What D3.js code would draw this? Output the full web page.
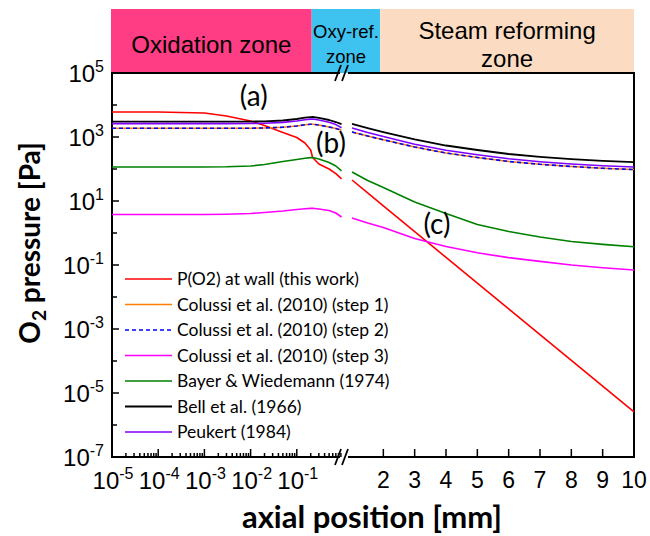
<!DOCTYPE html>
<html>
<head>
<meta charset="utf-8">
<script src="https://cdn.jsdelivr.net/npm/d3@7"></script>
<style>
  body { margin: 0; background: #fff; }
  svg { display: block; }
</style>
</head>
<body>
<svg id="chart" width="650" height="536"></svg>
<script>
// Axial positions (mm) on the logarithmic part of the broken axis
const xLogPart = [1e-5, 1e-4, 1e-3, 3e-3, 1e-2, 2e-2, 5e-2, 0.1, 0.15, 0.2, 0.22, 0.3, 0.5, 0.7, 0.93];
// Axial positions (mm) on the linear part of the broken axis
const xLinPart = [1, 1.5, 2, 3, 4, 5, 6, 7, 8, 9, 10];

// O2 partial pressure (Pa) for each series: logarithmic part, then linear part
const wallLog   = [6040, 6040, 5620, 4530, 3160, 2290, 1380, 964, 649, 392, 229, 143, 100, 72, 49];
const wallLin   = [45.3, 17.9, 7.08, 1.11, 0.173, 0.0271, 4.25e-3, 6.64e-4, 1.04e-4, 1.63e-5, 2.55e-6];
const step1Log  = [1870, 1870, 1870, 1870, 1880, 1920, 2020, 2210, 2410, 2490, 2490, 2370, 2050, 1840, 1650];
const step1Lin  = [1430, 1070, 818, 487, 316, 229, 172, 140, 120, 105, 96];
const step2Log  = [1870, 1870, 1870, 1870, 1880, 1920, 2020, 2210, 2410, 2490, 2490, 2370, 2050, 1840, 1650];
const step2Lin  = [1430, 1070, 818, 487, 316, 229, 172, 140, 120, 105, 96];
const step3Log  = [3.79, 3.79, 3.79, 3.87, 4.07, 4.37, 4.87, 5.42, 5.70, 5.87, 5.92, 5.62, 5.05, 4.22, 3.16];
const step3Lin  = [2.94, 2.05, 1.49, 0.67, 0.38, 0.24, 0.17, 0.13, 0.10, 0.082, 0.070];
const bayerLog  = [115, 115, 115, 117, 124, 138, 172, 198, 216, 227, 229, 205, 160, 124, 87];
const bayerLin  = [80.6, 43.7, 26.4, 9.31, 4.07, 1.84, 1.11, 0.75, 0.54, 0.44, 0.37];
const bellLog   = [3010, 3010, 3010, 3010, 3030, 3100, 3280, 3650, 4010, 4190, 4220, 3930, 3400, 2940, 2510];
const bellLin   = [2550, 1910, 1430, 836, 542, 392, 294, 240, 205, 180, 165];
const peukLog   = [2620, 2620, 2620, 2620, 2640, 2700, 2860, 3160, 3470, 3630, 3650, 3400, 2880, 2440, 1950];
const peukLin   = [1910, 1380, 1030, 596, 384, 278, 208, 169, 144, 127, 115];

const seriesNames = [
  "P(O2) at wall (this work)",
  "Colussi et al. (2010) (step 1)",
  "Colussi et al. (2010) (step 2)",
  "Colussi et al. (2010) (step 3)",
  "Bayer & Wiedemann (1974)",
  "Bell et al. (1966)",
  "Peukert (1984)"
];

// Reaction zones along the channel (mm)
const zoneLabels = [["Oxidation zone"], ["Oxy-ref.", "zone"], ["Steam reforming", "zone"]];
const zoneEdges = [1e-5, 0.21, 1.9, 10];

// Tick labels
const yTickExponents = [5, 3, 1, -1, -3, -5, -7];
const xLogTickExponents = [-5, -4, -3, -2, -1];
const xLinTickValues = [2, 3, 4, 5, 6, 7, 8, 9, 10];

// Curve annotations
const notes = [
  { text: "(a)", x: 0.0117, y: 9300 },
  { text: "(b)", x: 0.55, y: 316 },
  { text: "(c)", x: 3.71, y: 0.93 }
];

// ---------------------------------------------------------------
const series = [
  { name: seriesNames[0], log: wallLog,  lin: wallLin,  color: "#ff0000", width: 1.6 },
  { name: seriesNames[1], log: step1Log, lin: step1Lin, color: "#ff8000", width: 1.6 },
  { name: seriesNames[2], log: step2Log, lin: step2Lin, color: "#0000ff", width: 1.6, dash: "4,3" },
  { name: seriesNames[3], log: step3Log, lin: step3Lin, color: "#ff00ff", width: 1.6 },
  { name: seriesNames[4], log: bayerLog, lin: bayerLin, color: "#008000", width: 1.6 },
  { name: seriesNames[5], log: bellLog,  lin: bellLin,  color: "#000000", width: 1.8 },
  { name: seriesNames[6], log: peukLog,  lin: peukLin,  color: "#8000ff", width: 1.6 }
];

const svg = d3.select("#chart");
const plotTop = 73, plotBottom = 457, plotLeft = 112, plotRight = 634;
const breakLeft = 343, breakRight = 352;

const xL = d3.scaleLog().domain([1e-5, 1]).range([plotLeft, breakLeft]);
const xR = d3.scaleLinear().domain([1, 10]).range([breakRight, plotRight]);
const xPos = v => (v < 1 ? xL(v) : xR(v));
const y = d3.scaleLog().domain([1e-7, 1e5]).range([plotBottom, plotTop]);

const tickFont = "'Liberation Sans', Arial, sans-serif";
const textFont = "Lato, 'Open Sans', sans-serif";

// Zone bar above the plot
const zoneColors = ["#fe3d84", "#3ec3f0", "#fbdcc2"];
const zoneG = svg.append("g");
zoneLabels.forEach((lines, i) => {
  const x0 = i === 0 ? plotLeft - 1 : xPos(zoneEdges[i]);
  const x1 = xPos(zoneEdges[i + 1]);
  zoneG.append("rect")
    .attr("x", x0).attr("y", 9)
    .attr("width", x1 - x0).attr("height", plotTop - 9)
    .attr("fill", zoneColors[i]);
  const fs = i === 1 ? 18.5 : 24;
  const baselines = lines.length === 1 ? [53] : (i === 1 ? [38, 63] : [39, 67]);
  const t = zoneG.append("text")
    .attr("font-family", tickFont).attr("font-size", fs)
    .attr("text-anchor", "middle").attr("fill", "#000");
  lines.forEach((ln, k) => {
    t.append("tspan").attr("x", (x0 + x1) / 2).attr("y", baselines[k]).text(ln);
  });
});

// Plot frame with axis break
const frame = svg.append("g").attr("stroke", "#000").attr("stroke-width", 2).attr("fill", "none");
frame.append("line").attr("x1", plotLeft).attr("x2", plotLeft).attr("y1", plotTop - 1).attr("y2", plotBottom + 1);
frame.append("line").attr("x1", plotRight).attr("x2", plotRight).attr("y1", plotTop - 1).attr("y2", plotBottom + 1);
[plotTop, plotBottom].forEach(yy => {
  frame.append("line").attr("x1", plotLeft).attr("x2", breakLeft - 3).attr("y1", yy).attr("y2", yy);
  frame.append("line").attr("x1", breakRight - 4).attr("x2", plotRight).attr("y1", yy).attr("y2", yy);
  [breakLeft - 5, breakLeft + 2].forEach(bx => {
    frame.append("line")
      .attr("x1", bx - 3).attr("y1", yy + 8)
      .attr("x2", bx + 3).attr("y2", yy - 8)
      .attr("stroke-width", 1.8);
  });
});

// Y axis ticks (inward) and labels
const yTicks = d3.range(-7, 6);
svg.append("g").selectAll("line").data(yTicks).join("line")
  .attr("x1", plotLeft).attr("x2", d => plotLeft + (d % 2 !== 0 ? 7 : 5))
  .attr("y1", d => y(Math.pow(10, d))).attr("y2", d => y(Math.pow(10, d)))
  .attr("stroke", "#000").attr("stroke-width", 1.5);

const yLab = svg.append("g").attr("font-family", tickFont).attr("fill", "#000");
yTickExponents.forEach(e => {
  const t = yLab.append("text")
    .attr("x", 104).attr("y", y(Math.pow(10, e)) + 9)
    .attr("text-anchor", "end").attr("font-size", 24);
  t.append("tspan").text("10");
  t.append("tspan").attr("font-size", 16).attr("dy", -10).text(String(e));
});

// X axis ticks: logarithmic part
const minorLog = [];
for (let e = -5; e < 0; e++) for (let m = 1; m <= 9; m++) minorLog.push(m * Math.pow(10, e));
svg.append("g").selectAll("line").data(minorLog.filter(v => v > 1e-5)).join("line")
  .attr("x1", d => xL(d)).attr("x2", d => xL(d))
  .attr("y1", plotBottom)
  .attr("y2", d => plotBottom - (Math.abs(Math.log10(d) - Math.round(Math.log10(d))) < 1e-9 ? 8 : 4))
  .attr("stroke", "#000").attr("stroke-width", 1.5);

// X axis ticks: linear part
svg.append("g").selectAll("line").data(xLinTickValues).join("line")
  .attr("x1", d => xR(d)).attr("x2", d => xR(d))
  .attr("y1", plotBottom).attr("y2", plotBottom - 8)
  .attr("stroke", "#000").attr("stroke-width", 1.5);

const xLab = svg.append("g").attr("font-family", tickFont).attr("fill", "#000");
xLogTickExponents.forEach(e => {
  const t = xLab.append("text")
    .attr("x", xL(Math.pow(10, e)) + 1).attr("y", 489)
    .attr("text-anchor", "middle").attr("font-size", 24);
  t.append("tspan").text("10");
  t.append("tspan").attr("font-size", 16).attr("dy", -10).text(String(e));
});
xLinTickValues.forEach(v => {
  xLab.append("text")
    .attr("x", xR(v)).attr("y", 488)
    .attr("text-anchor", "middle").attr("font-size", 23)
    .text(v);
});

// Axis titles
svg.append("text")
  .attr("x", 372).attr("y", 528)
  .attr("text-anchor", "middle")
  .attr("font-family", textFont).attr("font-weight", "bold").attr("font-size", 31)
  .text("axial position [mm]");

const yTitle = svg.append("text")
  .attr("transform", "translate(40,243) rotate(-90)")
  .attr("text-anchor", "middle")
  .attr("font-family", textFont).attr("font-weight", "bold").attr("font-size", 28);
yTitle.append("tspan").text("O");
yTitle.append("tspan").attr("font-size", 19).attr("dy", 6).text("2");
yTitle.append("tspan").attr("dy", -6).text(" pressure [Pa]");

// Curves (each drawn as two pieces, one per axis part)
const line = d3.line().x(d => xPos(d[0])).y(d => y(d[1]));
const curves = svg.append("g").attr("fill", "none");
series.forEach(s => {
  [[xLogPart, s.log], [xLinPart, s.lin]].forEach(([xs, vs]) => {
    curves.append("path")
      .datum(xs.map((x, i) => [x, vs[i]]))
      .attr("d", line)
      .attr("stroke", s.color)
      .attr("stroke-width", s.width)
      .attr("stroke-dasharray", s.dash || null)
      .attr("stroke-linejoin", "round");
  });
});

// Annotations
svg.append("g").selectAll("text").data(notes).join("text")
  .attr("x", d => xPos(d.x)).attr("y", d => y(d.y))
  .attr("text-anchor", "middle")
  .attr("font-family", textFont).attr("font-size", 28)
  .text(d => d.text);

// Legend
const legend = svg.append("g");
series.forEach((s, i) => {
  const ly = 279 + i * 25.5;
  legend.append("line")
    .attr("x1", 125).attr("x2", 172).attr("y1", ly).attr("y2", ly)
    .attr("stroke", s.color).attr("stroke-width", s.width)
    .attr("stroke-dasharray", s.dash || null);
  legend.append("text")
    .attr("x", 177).attr("y", ly + 6)
    .attr("font-family", textFont).attr("font-size", 17.5)
    .text(s.name);
});
</script>
</body>
</html>
